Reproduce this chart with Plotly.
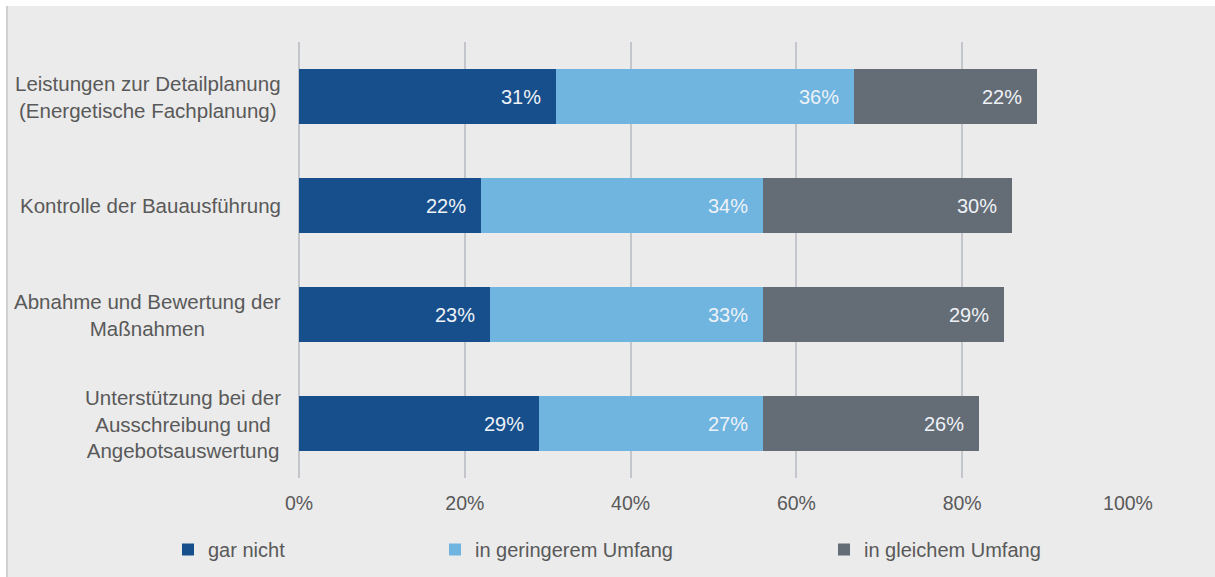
import plotly.graph_objects as go

# Survey results: share of respondents per service and extent
categories = [
    "Leistungen zur Detailplanung<br>(Energetische Fachplanung)",
    "Kontrolle der Bauausführung",
    "Abnahme und Bewertung der<br>Maßnahmen",
    "Unterstützung bei der<br>Ausschreibung und<br>Angebotsauswertung",
]
series_names = ["gar nicht", "in geringerem Umfang", "in gleichem Umfang"]
gar_nicht = [31, 22, 23, 29]
geringerer_umfang = [36, 34, 33, 27]
gleicher_umfang = [22, 30, 29, 26]
x_ticks = [0, 20, 40, 60, 80, 100]
x_tick_labels = ["0%", "20%", "40%", "60%", "80%", "100%"]

colors = ["#174f8c", "#6fb5e0", "#646c75"]
FONT = "Liberation Sans, Arial, sans-serif"
TXT = "#595959"
GRID = "#c3c7cb"

W, H = 1215, 577
L, R, T, B = 299, 87, 42, 99
plot_w = W - L - R
plot_h = H - T - B


def px_to_paper_x(px):
    return (px - L) / plot_w


def px_to_paper_y(py):
    return (H - B - py) / plot_h


fig = go.Figure()
values = [gar_nicht, geringerer_umfang, gleicher_umfang]
legend_ids = ["legend", "legend2", "legend3"]
for name, vals, col, lg in zip(series_names, values, colors, legend_ids):
    fig.add_trace(go.Bar(
        y=categories, x=vals, name=name, orientation="h",
        marker=dict(color=col, line=dict(width=0)),
        width=0.505, legend=lg, hoverinfo="x+name",
    ))

annotations = []
# value labels at the right end of every segment
for i, cat in enumerate(categories):
    cum = 0
    for vals in values:
        cum += vals[i]
        annotations.append(dict(
            x=cum, y=cat, xref="x", yref="y", text=f"{vals[i]}%",
            showarrow=False, xanchor="right", xshift=-13,
            font=dict(family=FONT, size=20, color="#eef2f7"),
        ))
# category labels, centred line by line
for cat in categories:
    annotations.append(dict(
        x=px_to_paper_x(283), y=cat, xref="paper", yref="y", text=cat,
        showarrow=False, xanchor="right", align="center",
        font=dict(family=FONT, size=20.5, color=TXT),
    ))

legend_style = dict(
    orientation="h", yanchor="top", xanchor="left",
    font=dict(family=FONT, size=20, color=TXT),
    bgcolor="rgba(0,0,0,0)", itemclick=False, itemdoubleclick=False,
)
legend_x_px = [168, 435, 824]
legend_y = px_to_paper_y(530)

fig.update_layout(
    width=W, height=H,
    margin=dict(l=L, r=R, t=T, b=B, autoexpand=False),
    paper_bgcolor="#ebebeb", plot_bgcolor="#ebebeb",
    barmode="stack", bargap=0.5,
    annotations=annotations,
    showlegend=True,
    legend=dict(x=px_to_paper_x(legend_x_px[0]), y=legend_y, **legend_style),
    legend2=dict(x=px_to_paper_x(legend_x_px[1]), y=legend_y, **legend_style),
    legend3=dict(x=px_to_paper_x(legend_x_px[2]), y=legend_y, **legend_style),
    xaxis=dict(
        range=[0, 100], tickvals=x_ticks, ticktext=x_tick_labels,
        showgrid=True, gridcolor=GRID, gridwidth=2,
        zeroline=True, zerolinecolor=GRID, zerolinewidth=2,
        showline=False, ticks="", ticklabelstandoff=11,
        tickfont=dict(family=FONT, size=19.5, color=TXT),
        fixedrange=True,
    ),
    yaxis=dict(
        categoryorder="array", categoryarray=categories, autorange="reversed",
        showticklabels=False, showgrid=False, zeroline=False, ticks="",
        fixedrange=True,
    ),
    shapes=[
        # white frame strips at the top and left edge
        dict(type="rect", xref="paper", yref="paper",
             x0=px_to_paper_x(0), x1=px_to_paper_x(W), y0=px_to_paper_y(6), y1=px_to_paper_y(0),
             fillcolor="white", line=dict(width=0), layer="above"),
        dict(type="rect", xref="paper", yref="paper",
             x0=px_to_paper_x(0), x1=px_to_paper_x(6), y0=px_to_paper_y(H), y1=px_to_paper_y(0),
             fillcolor="white", line=dict(width=0), layer="above"),
        dict(type="line", xref="paper", yref="paper",
             x0=px_to_paper_x(7), x1=px_to_paper_x(7), y0=px_to_paper_y(H), y1=px_to_paper_y(6),
             line=dict(color="#c8c8c8", width=1.5), layer="above"),
    ],
)

fig.write_html("out.html", config={"displayModeBar": False})
